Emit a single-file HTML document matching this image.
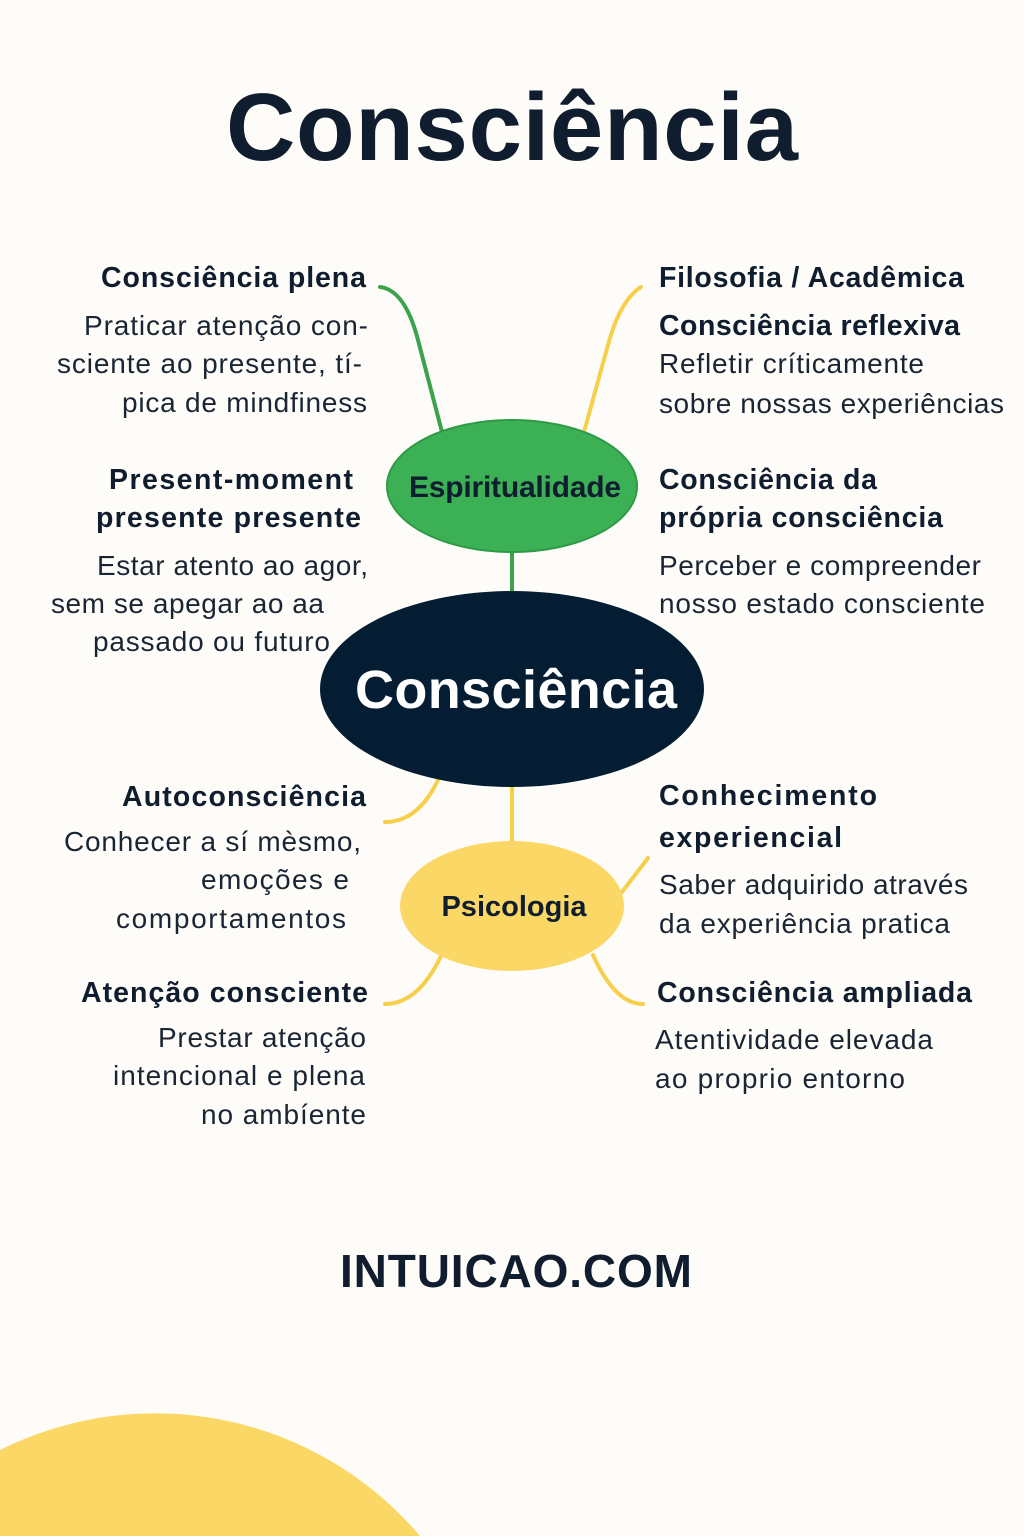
<!DOCTYPE html>
<html><head><meta charset="utf-8"><style>
html,body{margin:0;padding:0;background:#fdfcf9;width:1024px;height:1536px;overflow:hidden;}
svg{display:block;}
text{font-family:"Liberation Sans",sans-serif;fill:#0f1d2e;}
.h{font-weight:bold;font-size:28.5px;}
.b{font-size:28px;fill:#1a2533;}
</style></head><body>
<svg width="1024" height="1536" viewBox="0 0 1024 1536">
<rect width="1024" height="1536" fill="#fdfcf9"/>
<path d="M0 1536 L0 1450 A347 347 0 0 1 420 1536 Z" fill="#fbd866"/>
<text x="512" y="160" text-anchor="middle" font-size="96" font-weight="bold" fill="#0c1c2e" textLength="572">Consciência</text>
<g fill="none" stroke-width="4" stroke-linecap="round">
<path d="M380 287 Q405 290 418 340 L442 432" stroke="#3aa34c"/>
<path d="M641 287 Q620 300 608 345 L584 432" stroke="#f7cf4a"/>
<path d="M512 550 L512 595" stroke="#3aa34c"/>
<path d="M512 785 L512 842" stroke="#f7cf4a"/>
<path d="M438 780 Q418 822 385 822" stroke="#f7cf4a"/>
<path d="M441 956 Q418 1004 385 1004" stroke="#f7cf4a"/>
<path d="M622 892 L648 858" stroke="#f7cf4a"/>
<path d="M593 955 Q615 1004 643 1004" stroke="#f7cf4a"/>
</g>
<ellipse cx="512" cy="486" rx="125" ry="66" fill="#3cb054" stroke="#2f9a45" stroke-width="2"/>
<text x="515" y="497" text-anchor="middle" font-size="30" font-weight="bold" fill="#0e2a2a" textLength="212">Espiritualidade</text>
<ellipse cx="512" cy="689" rx="192" ry="98" fill="#041d33"/>
<text x="516" y="708" text-anchor="middle" font-size="54" font-weight="bold" style="fill:#fff" textLength="322">Consciência</text>
<ellipse cx="512" cy="906" rx="112" ry="65" fill="#fbd866"/>
<text x="514" y="916" text-anchor="middle" font-size="29" font-weight="bold">Psicologia</text>
<g text-anchor="end">
<text class="h" x="366" y="287" textLength="265">Consciência plena</text>
<text class="b" x="368" y="335" textLength="284">Praticar atenção con-</text>
<text class="b" x="362" y="373" textLength="305">sciente ao presente, tí-</text>
<text class="b" x="367" y="412" textLength="245">pica de mindfiness</text>
<text class="h" x="353" y="489" textLength="244">Present-moment</text>
<text class="h" x="361" y="527" textLength="265">presente presente</text>
<text class="b" x="368" y="575" textLength="271">Estar atento ao agor,</text>
<text class="b" x="324" y="613" textLength="273">sem se apegar ao aa</text>
<text class="b" x="330" y="651" textLength="237">passado ou futuro</text>
<text class="h" x="366" y="806" textLength="244">Autoconsciência</text>
<text class="b" x="361" y="851" textLength="297">Conhecer a sí mèsmo,</text>
<text class="b" x="349" y="889" textLength="148">emoções e</text>
<text class="b" x="346" y="928" textLength="230">comportamentos</text>
<text class="h" x="368" y="1002" textLength="287">Atenção consciente</text>
<text class="b" x="366" y="1047" textLength="208">Prestar atenção</text>
<text class="b" x="365" y="1085" textLength="252">intencional e plena</text>
<text class="b" x="366" y="1124" textLength="165">no ambíente</text>
</g>
<text class="h" x="659" y="287" textLength="305">Filosofia / Acadêmica</text>
<text class="h" x="659" y="335" textLength="301">Consciência reflexiva</text>
<text class="b" x="659" y="373" textLength="265">Refletir críticamente</text>
<text class="b" x="659" y="413" textLength="345">sobre nossas experiências</text>
<text class="h" x="659" y="489" textLength="218">Consciência da</text>
<text class="h" x="659" y="527" textLength="284">própria consciência</text>
<text class="b" x="659" y="575" textLength="322">Perceber e compreender</text>
<text class="b" x="659" y="613" textLength="326">nosso estado consciente</text>
<text class="h" x="659" y="805" textLength="218">Conhecimento</text>
<text class="h" x="659" y="847" textLength="183">experiencial</text>
<text class="b" x="659" y="894" textLength="309">Saber adquirido através</text>
<text class="b" x="659" y="933" textLength="291">da experiência pratica</text>
<text class="h" x="657" y="1002" textLength="315">Consciência ampliada</text>
<text class="b" x="655" y="1049" textLength="278">Atentividade elevada</text>
<text class="b" x="655" y="1088" textLength="250">ao proprio entorno</text>
<text x="516" y="1287" text-anchor="middle" font-size="46" font-weight="bold" fill="#0c1c2e" textLength="352">INTUICAO.COM</text>
</svg>
</body></html>
